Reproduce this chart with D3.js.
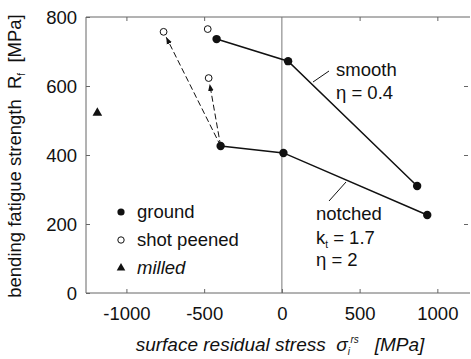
<!DOCTYPE html>
<html>
<head>
<meta charset="utf-8">
<script src="https://cdn.jsdelivr.net/npm/d3@7"></script>
<style>
  html, body { margin: 0; padding: 0; background: #fff; }
  svg { display: block; font-family: "Liberation Sans", Arial, sans-serif; }
  text { white-space: pre; }
</style>
</head>
<body>
<svg id="chart" width="471" height="359"></svg>
<script>
// Surface residual stress [MPa] vs. bending fatigue strength [MPa]
const smoothGround = [[-420, 736], [40, 672], [870, 310]];
const notchedGround = [[-394, 426], [10, 406], [935, 226]];
const shotPeened = [[-761, 757], [-477, 765], [-471, 623]];
const milled = [[-1187, 522]];
// shot peening moves the notched, ground condition to these points
const peeningArrows = [
  { from: [-394, 426], to: [-761, 757] },
  { from: [-394, 426], to: [-471, 623] }
];
const xTicks = [-1000, -500, 0, 500, 1000];
const yTicks = [0, 200, 400, 600, 800];
const legendItems = [
  { label: "ground", symbol: "filled", italic: false },
  { label: "shot peened", symbol: "open", italic: false },
  { label: "milled", symbol: "triangle", italic: true }
];

const svg = d3.select("#chart");
const plotLeft = 86, plotRight = 470, plotTop = 17, plotBottom = 293;
const x = d3.scaleLinear().domain([-1260, 1210]).range([plotLeft, plotRight]);
const y = d3.scaleLinear().domain([0, 800]).range([plotBottom, plotTop]);

const frameColor = "#666";
const ink = "#111";

// frame (top, left, bottom; the right side runs to the page edge)
svg.append("path")
  .attr("d", `M${plotRight},${plotTop}H${plotLeft}V${plotBottom}H${plotRight}`)
  .attr("fill", "none").attr("stroke", frameColor).attr("stroke-width", 1);

// zero-stress reference line
svg.append("line")
  .attr("x1", x(0)).attr("x2", x(0)).attr("y1", plotTop).attr("y2", plotBottom)
  .attr("stroke", "#777").attr("stroke-width", 1);

// axes with inward ticks; negative labels use a plain hyphen
const hyphenFormat = d => String(d);
const xAxis = svg.append("g").attr("transform", `translate(0,${plotBottom})`)
  .call(d3.axisBottom(x).tickValues(xTicks).tickSize(-4).tickPadding(14).tickFormat(hyphenFormat));
const xTop = svg.append("g").attr("transform", `translate(0,${plotTop})`)
  .call(d3.axisTop(x).tickValues(xTicks.filter(d => d !== 0)).tickSize(-4).tickFormat(""));
const yAxis = svg.append("g").attr("transform", `translate(${plotLeft},0)`)
  .call(d3.axisLeft(y).tickValues(yTicks).tickSize(-4).tickPadding(9).tickFormat(hyphenFormat));
const yRight = svg.append("g").attr("transform", `translate(${plotRight - 2},0)`)
  .call(d3.axisRight(y).tickValues(yTicks.filter(d => d > 0 && d < 800)).tickSize(-4).tickFormat(""));

[xAxis, xTop, yAxis, yRight].forEach(g => {
  g.select(".domain").remove();
  g.selectAll(".tick line").attr("stroke", frameColor);
  g.selectAll(".tick text").attr("fill", ink).attr("font-size", 18.5)
    .attr("font-family", "'Liberation Sans', Arial, sans-serif");
});
xAxis.selectAll(".tick text").attr("dy", "0.71em");
yAxis.selectAll(".tick text").attr("dy", "0.35em");

// axis titles
const yTitle = svg.append("text")
  .attr("transform", `translate(21,${(plotTop + plotBottom) / 2 + 1}) rotate(-90)`)
  .attr("text-anchor", "middle").attr("font-size", 18.5).attr("fill", ink);
yTitle.append("tspan").text("bending fatigue strength  R");
yTitle.append("tspan").attr("font-size", 10).attr("dy", 4).text("f");
yTitle.append("tspan").attr("dy", -4).text("  [MPa]");

const xTitle = svg.append("text")
  .attr("x", 280).attr("y", 351)
  .attr("text-anchor", "middle").attr("font-size", 19).attr("fill", ink)
  .attr("font-style", "italic");
xTitle.append("tspan").text("surface residual stress  σ");
xTitle.append("tspan").attr("font-size", 10).attr("dy", 4).text("i");
xTitle.append("tspan").attr("font-size", 10).attr("dy", -12).attr("dx", 0.5).text("rs");
xTitle.append("tspan").attr("dy", 8).text("   [MPa]");

// arrowhead marker
svg.append("defs").append("marker")
  .attr("id", "arrow").attr("viewBox", "0 0 10 10")
  .attr("refX", 10).attr("refY", 5)
  .attr("markerWidth", 7).attr("markerHeight", 7)
  .attr("markerUnits", "userSpaceOnUse")
  .attr("orient", "auto")
  .append("path").attr("d", "M0,1L10,5L0,9z").attr("fill", ink);

// dashed shot-peening arrows, stopping short of the open circle
peeningArrows.forEach(a => {
  const x1 = x(a.from[0]), y1 = y(a.from[1]);
  const x2 = x(a.to[0]), y2 = y(a.to[1]);
  const len = Math.hypot(x2 - x1, y2 - y1);
  const k = (len - 6) / len;
  svg.append("line")
    .attr("x1", x1).attr("y1", y1)
    .attr("x2", x1 + (x2 - x1) * k).attr("y2", y1 + (y2 - y1) * k)
    .attr("stroke", ink).attr("stroke-width", 1)
    .attr("stroke-dasharray", "6,3")
    .attr("marker-end", "url(#arrow)");
});

// ground series lines
const line = d3.line().x(d => x(d[0])).y(d => y(d[1]));
[smoothGround, notchedGround].forEach(s => {
  svg.append("path").attr("d", line(s))
    .attr("fill", "none").attr("stroke", ink).attr("stroke-width", 1.5);
});

// markers
svg.selectAll(".ground")
  .data(smoothGround.concat(notchedGround)).enter().append("circle")
  .attr("cx", d => x(d[0])).attr("cy", d => y(d[1])).attr("r", 4.2)
  .attr("fill", ink);
svg.selectAll(".peened")
  .data(shotPeened).enter().append("circle")
  .attr("cx", d => x(d[0])).attr("cy", d => y(d[1])).attr("r", 3.4)
  .attr("fill", "#fff").attr("stroke", ink).attr("stroke-width", 1);
const tri = d3.symbol().type(d3.symbolTriangle).size(40);
svg.selectAll(".milled")
  .data(milled).enter().append("path")
  .attr("d", tri)
  .attr("transform", d => `translate(${x(d[0])},${y(d[1])})`)
  .attr("fill", ink);

// series annotations with leader lines
const notes = svg.append("g").attr("font-size", 18.5).attr("fill", ink);
notes.append("line").attr("x1", 329).attr("y1", 71).attr("x2", 313).attr("y2", 82)
  .attr("stroke", ink).attr("stroke-width", 1);
notes.append("text").attr("x", 336).attr("y", 76).text("smooth");
notes.append("text").attr("x", 336).attr("y", 99).text("η = 0.4");

notes.append("line").attr("x1", 329).attr("y1", 201).attr("x2", 346).attr("y2", 182)
  .attr("stroke", ink).attr("stroke-width", 1);
notes.append("text").attr("x", 316).attr("y", 220).text("notched");
const kt = notes.append("text").attr("x", 316).attr("y", 244);
kt.append("tspan").text("k");
kt.append("tspan").attr("font-size", 10).attr("dy", 4).text("t");
kt.append("tspan").attr("dy", -4).text(" = 1.7");
notes.append("text").attr("x", 316).attr("y", 266).text("η = 2");

// legend
const legend = svg.append("g").attr("font-size", 18.5).attr("fill", ink);
legendItems.forEach((item, i) => {
  const cy = 212 + i * 28;
  const g = legend.append("g").attr("transform", `translate(121,${cy})`);
  if (item.symbol === "filled") {
    g.append("circle").attr("r", 3.6).attr("fill", ink);
  } else if (item.symbol === "open") {
    g.append("circle").attr("r", 3.2).attr("fill", "#fff").attr("stroke", ink);
  } else {
    g.append("path").attr("d", d3.symbol().type(d3.symbolTriangle).size(32)).attr("fill", ink);
  }
  g.append("text").attr("x", 16).attr("y", 6)
    .attr("font-style", item.italic ? "italic" : "normal").text(item.label);
});
</script>
</body>
</html>
